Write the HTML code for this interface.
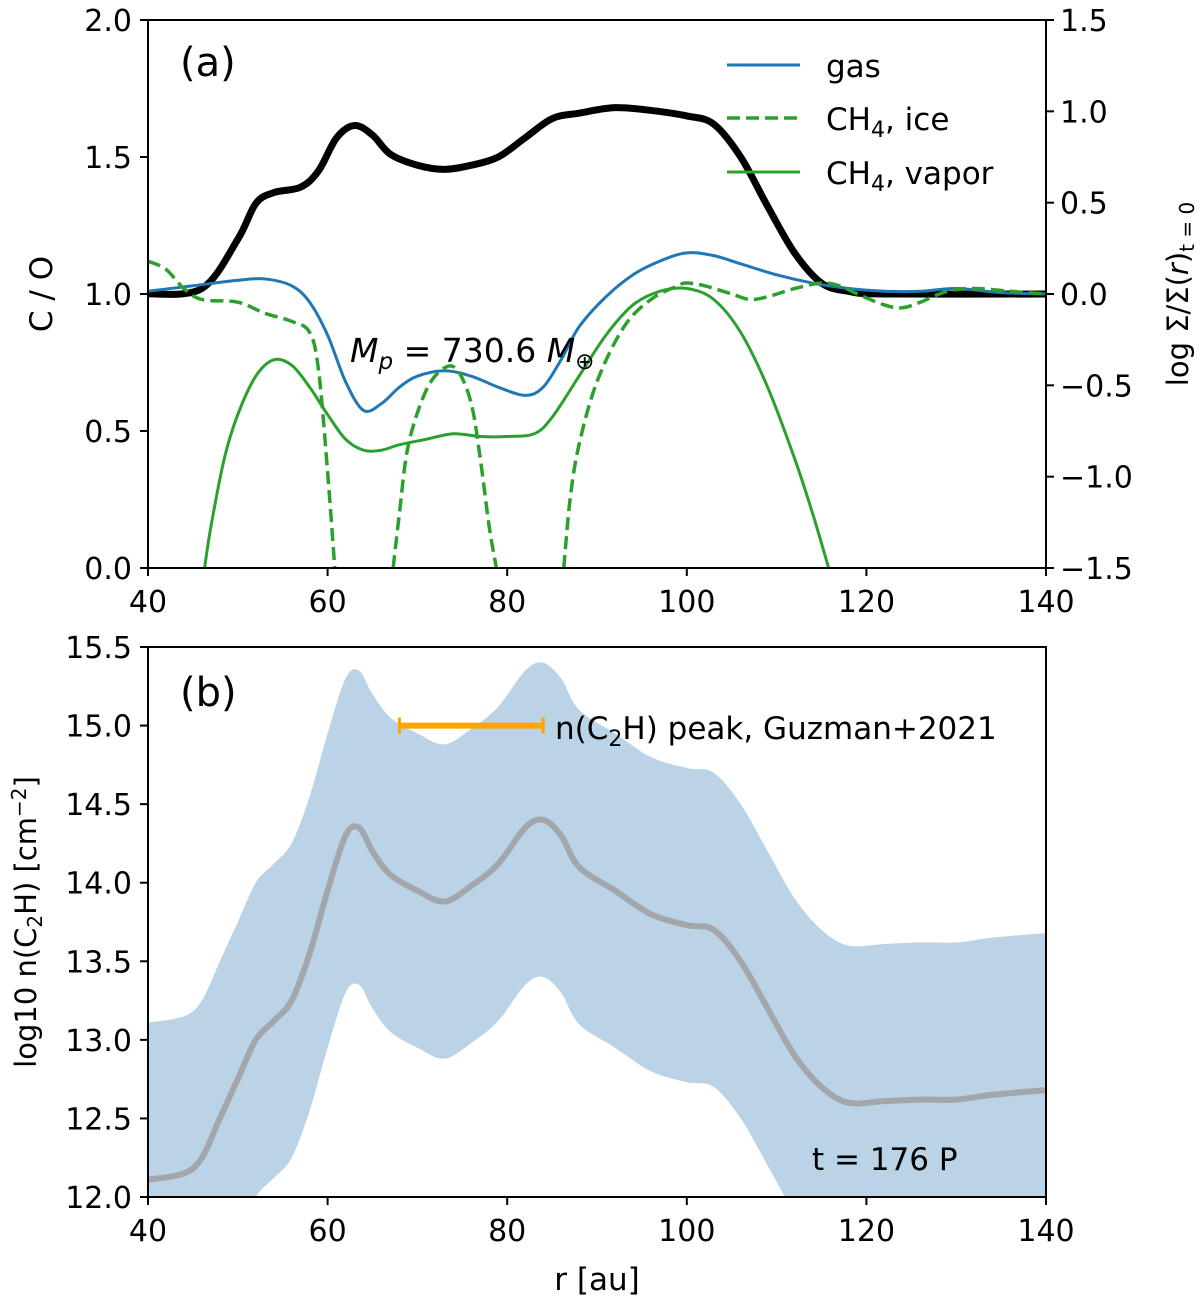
<!DOCTYPE html>
<html><head><meta charset="utf-8"><style>
body{margin:0;background:#fff}
svg{display:block;font-family:"DejaVu Sans","Liberation Sans",sans-serif}
</style></head><body>
<svg id="chart" width="1200" height="1303" viewBox="0 0 1200 1303" xmlns="http://www.w3.org/2000/svg">
<defs>
<clipPath id="clipA"><rect x="148" y="20" width="898" height="548"/></clipPath>
<clipPath id="clipB"><rect x="148" y="647" width="898" height="550"/></clipPath>
</defs>
<g id="pa"></g>
<g id="pb"></g>
</svg>
<script>
// Panel (a) data
const blackR=[40,46,50,52,54,57,59,61,63,65,67,70,73,76,79,82,85,88,92,96,100,103,106,109,112,115,118,122,140];
const blackV=[1.0,1.02,1.2,1.33,1.37,1.39,1.45,1.57,1.615,1.58,1.51,1.47,1.455,1.47,1.5,1.57,1.64,1.66,1.68,1.67,1.65,1.62,1.5,1.32,1.15,1.04,1.01,1.0,1.0];
const gasR=[40,45,50,53,56,58,60,62,64,66,68,70,73,76,79,82,84,86,88,91,94,97,100,103,106,110,114,118,122,126,130,135,140];
const gasV=[1.01,1.03,1.05,1.055,1.03,0.97,0.85,0.68,0.575,0.6,0.66,0.7,0.72,0.7,0.66,0.63,0.66,0.76,0.88,0.99,1.07,1.12,1.15,1.14,1.11,1.07,1.04,1.02,1.01,1.01,1.02,1.005,1.0];
const iceR1=[40,42,44,46,50,53,56,58,59,60,60.8];
const iceV1=[1.12,1.09,1.02,0.98,0.97,0.93,0.9,0.86,0.72,0.35,0.0];
const iceR2=[67.3,68,69,71,73,74.5,76,77,78,78.8];
const iceV2=[0.0,0.2,0.45,0.65,0.73,0.72,0.6,0.4,0.15,0.0];
const iceR3=[86.3,87,88,90,93,96,99,100,102,105,107,109,112,115,117,119,122,124,126,129,132,136,140];
const iceV3=[0.0,0.25,0.45,0.68,0.88,0.98,1.03,1.04,1.03,1.0,0.98,0.99,1.02,1.04,1.03,1.0,0.96,0.95,0.97,1.01,1.02,1.01,1.0];
const vapR=[46.3,47,48.5,50,52,54,56,58,60,62,64,66,68,71,74,77,80,83,85,88,91,94,97,100,103,106,109,112,114,115.8];
const vapV=[0.0,0.15,0.4,0.56,0.7,0.76,0.74,0.66,0.56,0.47,0.43,0.43,0.45,0.47,0.49,0.48,0.48,0.49,0.55,0.7,0.85,0.96,1.01,1.02,0.98,0.86,0.66,0.4,0.2,0.0];
const xTicks=[40,60,80,100,120,140];
const yTicksA=[0.0,0.5,1.0,1.5,2.0];
const yTicksAR=[-1.5,-1.0,-0.5,0.0,0.5,1.0,1.5];
// Panel (b) data
const midR=[40,44,46,48,50,52,54,56,58,60,62,63.5,65,67,70,73,76,79,82,84,86,88,92,96,100,103,106,109,112,115,118,122,126,130,134,140];
const midV=[12.11,12.15,12.25,12.5,12.75,13.0,13.12,13.25,13.55,13.95,14.3,14.35,14.2,14.05,13.95,13.88,13.98,14.12,14.35,14.4,14.3,14.1,13.95,13.8,13.73,13.7,13.5,13.2,12.9,12.7,12.6,12.61,12.62,12.62,12.65,12.68];
const upV=[13.11,13.15,13.25,13.5,13.75,14.0,14.12,14.25,14.55,14.95,15.3,15.35,15.2,15.05,14.95,14.88,14.98,15.12,15.35,15.4,15.3,15.1,14.95,14.8,14.73,14.7,14.5,14.2,13.9,13.7,13.6,13.61,13.62,13.62,13.65,13.68];
const loV=[11.11,11.15,11.25,11.5,11.75,12.0,12.12,12.25,12.55,12.95,13.3,13.35,13.2,13.05,12.95,12.88,12.98,13.12,13.35,13.4,13.3,13.1,12.95,12.8,12.73,12.7,12.5,12.2,11.9,11.7,11.6,11.61,11.62,11.62,11.65,11.68];
const peakRange=[68,84];
const peakVal=15.0;
const yTicksB=[12.0,12.5,13.0,13.5,14.0,14.5,15.0,15.5];

const NS="http://www.w3.org/2000/svg";
const X=r=>148+(r-40)/100*898;
const YA=v=>568-v/2*548;
const YAR=v=>568-(v+1.5)/3*548;
const YB=v=>1197-(v-12)/3.5*550;
function mk(parent,tag,attrs,txt){const e=document.createElementNS(NS,tag);for(const k in attrs)e.setAttribute(k,attrs[k]);if(txt!==undefined)e.textContent=txt;parent.appendChild(e);return e;}
function smooth(pts){let d=`M${pts[0][0]},${pts[0][1]}`;for(let i=0;i<pts.length-1;i++){const p0=pts[Math.max(0,i-1)],p1=pts[i],p2=pts[i+1],p3=pts[Math.min(pts.length-1,i+2)];const c1=[p1[0]+(p2[0]-p0[0])/6,p1[1]+(p2[1]-p0[1])/6],c2=[p2[0]-(p3[0]-p1[0])/6,p2[1]-(p3[1]-p1[1])/6];d+=`C${c1[0]},${c1[1]} ${c2[0]},${c2[1]} ${p2[0]},${p2[1]}`;}return d;}
const pts=(rs,vs,fy)=>rs.map((r,i)=>[X(r),fy(vs[i])]);

const pa=document.getElementById('pa'),pb=document.getElementById('pb');
const ga=mk(pa,'g',{'clip-path':'url(#clipA)'});
let e;
e=mk(ga,'path',{d:smooth(pts(blackR,blackV,YA)),fill:'none',stroke:'#000','stroke-width':7});


e=mk(ga,'path',{d:smooth(pts(gasR,gasV,YA)),fill:'none',stroke:'#1f77b4','stroke-width':3});


[[iceR1,iceV1],[iceR2,iceV2],[iceR3,iceV3]].forEach((s,i)=>{
 e=mk(ga,'path',{d:smooth(pts(s[0],s[1],YA)),fill:'none',stroke:'#2ca02c','stroke-width':3.5,'stroke-dasharray':'13,6'});
 
 
});
e=mk(ga,'path',{d:smooth(pts(vapR,vapV,YA)),fill:'none',stroke:'#2ca02c','stroke-width':3});



const gb=mk(pb,'g',{'clip-path':'url(#clipB)'});
const up=pts(midR,upV,YB),lo=pts(midR,loV,YB).reverse();
let bd=smooth(up)+smooth(lo).replace('M','L')+'Z';
e=mk(gb,'path',{d:bd,fill:'#bad3e6',stroke:'none'});


e=mk(gb,'path',{d:smooth(pts(midR,midV,YB)),fill:'none',stroke:'#a3a6aa','stroke-width':6});


const eb=mk(pb,'g',{});


mk(eb,'line',{x1:X(peakRange[0]),x2:X(peakRange[1]),y1:YB(peakVal),y2:YB(peakVal),stroke:'#ffa500','stroke-width':6});
peakRange.forEach(r=>mk(eb,'line',{x1:X(r),x2:X(r),y1:YB(peakVal)-8,y2:YB(peakVal)+8,stroke:'#ffa500','stroke-width':3}));

function axes(p,top,bot,yt,fy,right,fyr){
 mk(p,'rect',{x:148,y:top,width:898,height:bot-top,fill:'none',stroke:'#000','stroke-width':2});
 xTicks.forEach(t=>{mk(p,'line',{x1:X(t),x2:X(t),y1:bot,y2:bot+8,stroke:'#000','stroke-width':2});
  const tx=mk(p,'text',{x:X(t),y:bot+44,'font-size':30,'text-anchor':'middle'},String(t));
  });
 yt.forEach(t=>{mk(p,'line',{x1:140,x2:148,y1:fy(t),y2:fy(t),stroke:'#000','stroke-width':2});
  const tx=mk(p,'text',{x:132,y:fy(t)+11,'font-size':30,'text-anchor':'end'},t.toFixed(1));
  });
 if(right)right.forEach(t=>{mk(p,'line',{x1:1046,x2:1054,y1:fyr(t),y2:fyr(t),stroke:'#000','stroke-width':2});
  const tx=mk(p,'text',{x:1060,y:fyr(t)+11,'font-size':30},(t<0?'\u2212':'')+Math.abs(t).toFixed(1));
  });
}
axes(pa,20,568,yTicksA,YA,yTicksAR,YAR);
axes(pb,647,1197,yTicksB,YB);
</script>
<svg style="position:absolute;left:0;top:0" width="1200" height="1303" xmlns="http://www.w3.org/2000/svg" font-family="DejaVu Sans, Liberation Sans, sans-serif">
<text x="180" y="76" font-size="40">(a)</text>
<text x="180" y="706" font-size="40">(b)</text>
<g>
<line x1="727" x2="800" y1="65" y2="65" stroke="#1f77b4" stroke-width="3"/>
<text x="826" y="77" font-size="31">gas</text>
<line x1="727" x2="800" y1="118" y2="118" stroke="#2ca02c" stroke-width="3.5" stroke-dasharray="13,6"/>
<text x="826" y="130" font-size="31">CH<tspan font-size="22" dy="7">4</tspan><tspan dy="-7">, ice</tspan></text>
<line x1="727" x2="800" y1="172" y2="172" stroke="#2ca02c" stroke-width="3"/>
<text x="826" y="184" font-size="31">CH<tspan font-size="22" dy="7">4</tspan><tspan dy="-7">, vapor</tspan></text>
</g>
<text x="350" y="362" font-size="33"><tspan font-style="italic">M</tspan><tspan font-style="italic" font-size="23" dy="7">p</tspan><tspan dy="-7"> = 730.6 </tspan><tspan font-style="italic">M</tspan><tspan font-size="23" dy="7">⊕</tspan></text>
<text x="555" y="739" font-size="31">n(C<tspan font-size="22" dy="7">2</tspan><tspan dy="-7">H) peak, Guzman+2021</tspan></text>
<text x="812" y="1170" font-size="31">t = 176 P</text>
<text transform="translate(52,294) rotate(-90)" font-size="31" text-anchor="middle">C / O</text>
<text transform="translate(1188,294) rotate(-90)" font-size="29" text-anchor="middle">log Σ/Σ(<tspan font-style="italic">r</tspan>)<tspan font-size="20" dy="6">t = 0</tspan></text>
<text transform="translate(36,922) rotate(-90)" font-size="29" text-anchor="middle">log10 n(C<tspan font-size="20" dy="6">2</tspan><tspan dy="-6">H) [cm</tspan><tspan font-size="20" dy="-10">−2</tspan><tspan dy="10">]</tspan></text>
<text x="597" y="1290" font-size="31" text-anchor="middle">r [au]</text>
</svg>
</body></html>
